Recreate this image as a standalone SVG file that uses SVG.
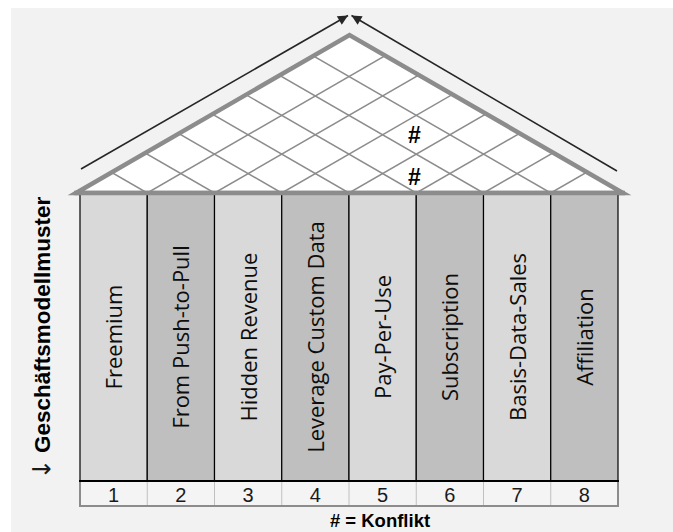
<svg xmlns="http://www.w3.org/2000/svg" width="673" height="532" viewBox="0 0 673 532">
  <style>
    .col-text { font-family: "Open Sans", "DejaVu Sans", sans-serif; font-size: 22px; fill: #0d0d0d; text-anchor: middle; }
    .num { font-family: "Liberation Sans", Arial, sans-serif; font-size: 20px; fill: #1a1a1a; text-anchor: middle; }
    .bold { font-family: "Liberation Sans", Arial, sans-serif; font-weight: bold; fill: #000; }
    .col-light { fill: #d9d9d9; stroke: #000; stroke-width: 1.2; }
    .col-dark { fill: #bfbfbf; stroke: #000; stroke-width: 1.2; }
    .grid { stroke: #8c8c8c; stroke-width: 1.5; fill: none; }
    .trend { stroke: #262626; stroke-width: 1.6; fill: none; }
    .sep { stroke: #c0c0c0; stroke-width: 1; }
  </style>
  <defs>
    <marker id="arrowhead" viewBox="0 0 10 10" refX="10" refY="5" markerWidth="14" markerHeight="10" markerUnits="userSpaceOnUse" orient="auto">
      <path d="M0,0 L10,5 L0,10 z" fill="#262626"/>
    </marker>
    <clipPath id="roof-clip">
      <polygon points="76,193 349.5,35 623,193"/>
    </clipPath>
  </defs>

  <!-- panel background -->
  <rect x="11" y="8" width="662" height="524" fill="#f2f2f2"/>

  <!-- roof: correlation matrix -->
  <g id="roof">
    <polygon points="76,193 349.5,35 623,193" fill="#ffffff"/>
    <g clip-path="url(#roof-clip)" class="grid">
      <!-- up-right diagonals from column boundaries -->
      <line x1="147.25" y1="193" x2="547.25" y2="-37.9"/>
      <line x1="214.5" y1="193" x2="614.5" y2="-37.9"/>
      <line x1="281.75" y1="193" x2="681.75" y2="-37.9"/>
      <line x1="349" y1="193" x2="749" y2="-37.9"/>
      <line x1="416.25" y1="193" x2="816.25" y2="-37.9"/>
      <line x1="483.5" y1="193" x2="883.5" y2="-37.9"/>
      <line x1="550.75" y1="193" x2="950.75" y2="-37.9"/>
      <!-- up-left diagonals from column boundaries -->
      <line x1="147.25" y1="193" x2="-252.75" y2="-37.9"/>
      <line x1="214.5" y1="193" x2="-185.5" y2="-37.9"/>
      <line x1="281.75" y1="193" x2="-118.25" y2="-37.9"/>
      <line x1="349" y1="193" x2="-51" y2="-37.9"/>
      <line x1="416.25" y1="193" x2="16.25" y2="-37.9"/>
      <line x1="483.5" y1="193" x2="83.5" y2="-37.9"/>
      <line x1="550.75" y1="193" x2="150.75" y2="-37.9"/>
    </g>
    <polygon points="76,193 349.5,35 623,193" fill="none" stroke="#8c8c8c" stroke-width="4.5" stroke-linejoin="miter"/>
    <text class="bold" x="414.5" y="143" font-size="23" text-anchor="middle">#</text>
    <text class="bold" x="414.5" y="185" font-size="23" text-anchor="middle">#</text>
  </g>

  <!-- trend arrows along the roof -->
  <g id="connectors">
    <line class="trend" x1="81" y1="169" x2="348" y2="15.5" marker-end="url(#arrowhead)"/>
    <line class="trend" x1="617" y1="171" x2="351.5" y2="15.5" marker-end="url(#arrowhead)"/>
  </g>

  <!-- business model pattern columns -->
  <g id="col-1">
    <rect class="col-light" x="80" y="193" width="67.25" height="288"/>
    <text class="col-text" transform="translate(113.6,337) rotate(-90)" y="8.5">Freemium</text>
  </g>
  <g id="col-2">
    <rect class="col-dark" x="147.25" y="193" width="67.25" height="288"/>
    <text class="col-text" transform="translate(180.9,337) rotate(-90)" y="8.5">From Push-to-Pull</text>
  </g>
  <g id="col-3">
    <rect class="col-light" x="214.5" y="193" width="67.25" height="288"/>
    <text class="col-text" transform="translate(248.1,337) rotate(-90)" y="8.5">Hidden Revenue</text>
  </g>
  <g id="col-4">
    <rect class="col-dark" x="281.75" y="193" width="67.25" height="288"/>
    <text class="col-text" transform="translate(315.4,337) rotate(-90)" y="8.5">Leverage Custom Data</text>
  </g>
  <g id="col-5">
    <rect class="col-light" x="349" y="193" width="67.25" height="288"/>
    <text class="col-text" transform="translate(382.6,337) rotate(-90)" y="8.5">Pay-Per-Use</text>
  </g>
  <g id="col-6">
    <rect class="col-dark" x="416.25" y="193" width="67.25" height="288"/>
    <text class="col-text" transform="translate(449.9,337) rotate(-90)" y="8.5">Subscription</text>
  </g>
  <g id="col-7">
    <rect class="col-light" x="483.5" y="193" width="67.25" height="288"/>
    <text class="col-text" transform="translate(517.1,337) rotate(-90)" y="8.5">Basis-Data-Sales</text>
  </g>
  <g id="col-8">
    <rect class="col-dark" x="550.75" y="193" width="67.25" height="288"/>
    <text class="col-text" transform="translate(584.4,337) rotate(-90)" y="8.5">Affiliation</text>
  </g>
  <!-- roof base line on top of the columns -->
  <line x1="74" y1="193" x2="625" y2="193" stroke="#8c8c8c" stroke-width="4.5"/>

  <!-- numbering row -->
  <g id="numbers">
    <rect x="80" y="481" width="538" height="25" fill="#f4f4f4"/>
    <line class="sep" x1="147.25" y1="481" x2="147.25" y2="506"/>
    <line class="sep" x1="214.5" y1="481" x2="214.5" y2="506"/>
    <line class="sep" x1="281.75" y1="481" x2="281.75" y2="506"/>
    <line class="sep" x1="349" y1="481" x2="349" y2="506"/>
    <line class="sep" x1="416.25" y1="481" x2="416.25" y2="506"/>
    <line class="sep" x1="483.5" y1="481" x2="483.5" y2="506"/>
    <line class="sep" x1="550.75" y1="481" x2="550.75" y2="506"/>
    <polyline points="80,481 80,506 618,506 618,481" fill="none" stroke="#8c8c8c" stroke-width="2"/>
    <line x1="79" y1="481" x2="619" y2="481" stroke="#000" stroke-width="2"/>
    <text class="num" x="113.6" y="501.5">1</text>
    <text class="num" x="180.9" y="501.5">2</text>
    <text class="num" x="248.1" y="501.5">3</text>
    <text class="num" x="315.4" y="501.5">4</text>
    <text class="num" x="382.6" y="501.5">5</text>
    <text class="num" x="449.9" y="501.5">6</text>
    <text class="num" x="517.1" y="501.5">7</text>
    <text class="num" x="584.4" y="501.5">8</text>
  </g>

  <!-- axis label -->
  <g id="axis-label">
    <text class="bold" transform="translate(50,453) rotate(-90)" font-size="22.5">Geschäftsmodellmuster</text>
    <text font-family="DejaVu Sans, sans-serif" font-size="25" fill="#1a1a1a" x="30.5" y="477">→</text>
  </g>

  <!-- legend -->
  <g id="legend">
    <text class="bold" x="380" y="527" font-size="18.5" text-anchor="middle"># = Konflikt</text>
  </g>
</svg>
